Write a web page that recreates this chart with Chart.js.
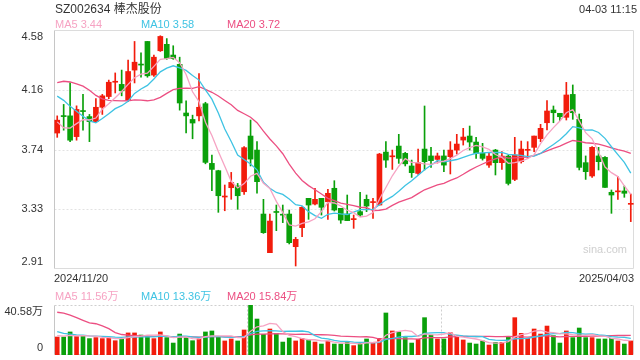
<!DOCTYPE html>
<html><head><meta charset="utf-8">
<script src="https://cdn.jsdelivr.net/npm/chart.js@4.4.1/dist/chart.umd.min.js"></script>
<style>
html,body{margin:0;padding:0;background:#fff;}
body{width:640px;height:360px;overflow:hidden;position:relative;font-family:"Liberation Sans",Arial,"Noto Sans CJK SC",sans-serif;}
.t{position:absolute;white-space:nowrap;line-height:1;}
.box{position:absolute;left:0;width:640px;}
</style></head><body>
<div class="box" style="top:285px;height:100px"><canvas id="c2"></canvas></div>
<div class="box" style="top:0;height:290px"><canvas id="c1"></canvas></div>
<div class="t" style="left:55px;top:3px;font-size:12px;color:#333">SZ002634 棒杰股份</div>
<div class="t" style="right:3px;top:4px;font-size:11px;color:#333">04-03 11:15</div>
<div class="t" id="l1" style="top:19px;font-size:11px"></div>
<div class="t" id="l2" style="top:291px;font-size:11px"></div>
<div class="t" style="left:583px;top:244px;font-size:11px;color:#cfcfcf">sina.com</div>
<script>
// ---- data ----
const dateLabels = ['2024/11/20', '2025/04/03'];
const opens  = [3.86,3.98,3.98,3.835,4.015,3.975,3.94,4.04,4.115,4.215,4.20,4.09,4.30,4.34,4.50,4.265,4.435,4.48,4.405,4.34,4.00,3.955,3.98,4.065,3.648,3.597,3.413,3.478,3.49,3.45,3.839,3.741,3.294,3.024,3.307,3.288,3.294,3.066,3.199,3.404,3.364,3.404,3.38,3.474,3.334,3.294,3.255,3.311,3.397,3.374,3.357,3.727,3.694,3.769,3.718,3.63,3.578,3.748,3.70,3.676,3.70,3.695,3.741,3.811,3.839,3.797,3.718,3.636,3.741,3.653,3.699,3.536,3.66,3.739,3.76,3.821,3.932,4.021,3.998,3.97,4.13,3.956,3.653,3.56,3.70,3.69,3.446,3.449,3.455,3.362];
const closes = [3.95,3.975,3.81,4.025,4.01,3.94,4.04,4.12,4.215,4.22,4.155,4.29,4.355,4.335,4.26,4.39,4.535,4.38,4.38,4.07,3.98,3.93,4.04,3.655,3.606,3.422,3.417,3.515,3.422,3.758,3.678,3.52,3.164,3.245,3.305,3.286,3.094,3.117,3.341,3.357,3.397,3.341,3.439,3.322,3.252,3.248,3.258,3.287,3.35,3.377,3.713,3.671,3.696,3.683,3.645,3.583,3.653,3.66,3.667,3.70,3.636,3.741,3.783,3.832,3.797,3.718,3.683,3.699,3.653,3.699,3.508,3.707,3.748,3.742,3.839,3.893,4.014,4.002,3.974,4.126,4.002,3.62,3.59,3.76,3.66,3.48,3.427,3.451,3.439,3.365];
const highs  = [3.98,4.06,4.21,4.05,4.13,3.99,4.10,4.13,4.23,4.28,4.30,4.37,4.50,4.42,4.50,4.405,4.54,4.52,4.47,4.39,4.085,3.985,4.275,4.075,3.706,3.60,3.497,3.585,3.508,3.765,3.951,3.80,3.397,3.294,3.357,3.357,3.322,3.131,3.346,3.404,3.474,3.404,3.467,3.527,3.334,3.427,3.287,3.446,3.427,3.404,3.718,3.80,3.741,3.851,3.725,3.671,3.748,4.049,3.76,3.72,3.741,3.80,3.851,3.893,3.909,3.83,3.788,3.718,3.746,3.73,3.707,3.83,3.804,3.80,3.839,3.921,4.086,4.049,3.998,4.214,4.196,3.993,3.70,3.765,3.76,3.695,3.462,3.555,3.49,3.434];
const lows   = [3.83,3.88,3.80,3.81,3.88,3.80,3.94,3.99,4.10,4.14,4.12,4.08,4.21,4.25,4.25,4.255,4.43,4.375,4.375,4.02,3.86,3.82,3.945,3.645,3.457,3.306,3.317,3.397,3.327,3.431,3.63,3.439,3.159,3.024,3.178,3.234,3.085,2.931,3.136,3.257,3.357,3.287,3.257,3.315,3.229,3.248,3.194,3.276,3.311,3.264,3.357,3.62,3.606,3.648,3.63,3.55,3.57,3.602,3.62,3.65,3.59,3.574,3.713,3.776,3.741,3.683,3.671,3.62,3.567,3.606,3.497,3.527,3.65,3.683,3.73,3.80,3.881,3.932,3.946,3.951,3.956,3.602,3.536,3.55,3.602,3.48,3.299,3.397,3.411,3.241];
// volumes in 万
const volumes = [14.6,14.6,18.7,15.0,15.7,13.3,14.1,13.3,14.1,11.6,13.3,17.9,17.9,16.2,15.0,13.3,18.7,14.1,9.7,17.0,14.1,11.6,13.3,18.7,19.5,14.9,11.4,13.0,11.4,20.3,40.58,29.2,16.8,21.1,17.6,10.5,13.8,11.4,13.5,12.7,10.5,8.9,11.4,8.9,8.9,10.3,7.6,9.5,13.0,10.3,13.5,34.1,19.5,18.7,14.1,9.7,12.7,30.3,16.2,13.0,13.0,18.1,16.0,12.2,9.7,8.9,11.4,8.1,10.3,10.3,14.6,30.3,17.6,13.5,21.1,17.0,23.5,15.7,9.7,19.5,14.1,21.9,14.1,14.1,13.0,13.0,13.5,11.4,8.9,11.4];
// 19 sessions before the window (estimated from the MA curves), used to warm up the averages
const priorCloses  = [3.80,3.91,4.30,4.32,4.52,4.75,4.60,4.44,4.24,4.20,4.27,4.23,4.37,4.35,4.27,4.18,3.82,3.87,3.87];
const priorVolumes = [30,51,56,59,54,28,47,60,75,45,28.6,23.7,21,17.7,19.3,16.5,15.9,17,14.6];
const yTicks = [2.91, 3.33, 3.74, 4.16, 4.58];
const volTicks = [0, 40.58];
const priceLegend = ['MA5 3.44', 'MA10 3.58', 'MA20 3.72'];
const volLegend = ['MA5 11.56万', 'MA10 13.36万', 'MA20 15.84万'];

// ---- styles ----
const RED = '#f21c0c', GREEN = '#0aa00a';
const MA_COLORS = ['#f6a3c3', '#3fc3e3', '#ec4f82'];
const FONT = '"Liberation Sans", Arial, "Noto Sans CJK SC", sans-serif';
Chart.defaults.font.family = FONT;
Chart.defaults.font.size = 11;
Chart.defaults.color = '#333';

const N = closes.length;
const idx = closes.map((_, i) => i);
function ma(series, prior, n) {
  const all = prior.concat(series), off = prior.length;
  return series.map((_, i) => { let s = 0; for (let k = 0; k < n; k++) s += all[off + i - k]; return s / n; });
}
const candleColors = idx.map(i => closes[i] >= opens[i] ? RED : GREEN);

function legend(el, texts) {
  const xs = [55, 141, 227];
  document.getElementById(el).outerHTML = texts.map((t, k) =>
    `<div class="t" style="left:${xs[k]}px;top:${el==='l1'?19:291}px;font-size:11px;color:${MA_COLORS[k]}">${t}</div>`).join('');
}
legend('l1', priceLegend);
legend('l2', volLegend);

function maSets(series, prior) {
  return [5, 10, 20].map((n, k) => ({
    type: 'line', data: ma(series, prior, n).map((v, i) => ({x: i, y: v})),
    borderColor: MA_COLORS[k], borderWidth: 1.3, pointRadius: 0, tension: 0, order: 0
  }));
}

function framePlugin(kind) {
  return {
    id: 'frame' + kind,
    beforeDatasetsDraw(chart) {
      const {ctx, chartArea: a} = chart;
      ctx.save();
      ctx.lineWidth = 1;
      const L = Math.round(a.left) + 0.5, R = Math.round(a.right) - 0.5;
      const T = Math.round(a.top) + 0.5, B = Math.round(a.bottom) - 0.5;
      if (kind === 'main') {
        const ys = chart.scales.y;
        ctx.strokeStyle = '#e2e2e2'; ctx.setLineDash([2, 2]);
        yTicks.slice(1, -1).forEach(v => {
          const y = Math.round(ys.getPixelForValue(v)) + 0.5;
          ctx.beginPath(); ctx.moveTo(L, y); ctx.lineTo(R, y); ctx.stroke();
        });
        ctx.setLineDash([]);
        ctx.strokeStyle = '#dcdcdc';
        ctx.beginPath(); ctx.moveTo(L, T); ctx.lineTo(R, T); ctx.lineTo(R, B); ctx.lineTo(L, B); ctx.stroke();
        ctx.strokeStyle = '#c6c6c6';
        ctx.beginPath(); ctx.moveTo(L, T); ctx.lineTo(L, B); ctx.stroke();
      } else {
        ctx.strokeStyle = '#cfcfcf'; ctx.setLineDash([2, 2]);
        ctx.beginPath(); ctx.moveTo(L, T); ctx.lineTo(R, T); ctx.moveTo(L, B); ctx.lineTo(R, B);
        const w = a.right - a.left;
        [1, 2].forEach(k => { const x = Math.round(a.left + w * k / 3) + 0.5; ctx.moveTo(x, T); ctx.lineTo(x, B); });
        ctx.stroke();
        ctx.setLineDash([]);
        ctx.strokeStyle = '#dcdcdc';
        ctx.beginPath(); ctx.moveTo(R, T); ctx.lineTo(R, B); ctx.stroke();
        ctx.strokeStyle = '#c6c6c6';
        ctx.beginPath(); ctx.moveTo(L, T); ctx.lineTo(L, B); ctx.stroke();
      }
      ctx.restore();
    }
  };
}

function edgeLabel(label, i, count) {
  if (i === 0) return [label, ''];
  if (i === count - 1) return ['', label];
  return label;
}

new Chart(document.getElementById('c1'), {
  type: 'bar',
  data: {
    datasets: [
      ...maSets(closes, priorCloses),
      { type: 'bar', data: idx.map(i => ({x: i, y: [opens[i], closes[i]]})), backgroundColor: candleColors,
        barThickness: 5, minBarLength: 1, grouped: false, order: 1 },
      { type: 'bar', data: idx.map(i => ({x: i, y: [lows[i], highs[i]]})), backgroundColor: candleColors,
        barThickness: 1, minBarLength: 1, grouped: false, order: 2 }
    ]
  },
  options: {
    responsive: true, maintainAspectRatio: false, animation: false, devicePixelRatio: 1,
    layout: { padding: { top: 30, right: 6, left: 0, bottom: 0 } },
    plugins: { legend: { display: false }, tooltip: { enabled: false } },
    scales: {
      x: { type: 'linear', min: -0.5, max: N - 0.5, offset: false,
        grid: { display: false, drawTicks: false }, border: { display: false },
        afterBuildTicks: s => { s.ticks = [{value: -0.5}, {value: N - 0.5}]; },
        afterFit: s => { s.height = 21; s.paddingLeft = 0; s.paddingRight = 0; },
        ticks: { autoSkip: false, maxRotation: 0, align: 'inner', padding: 3, color: '#333',
          callback: (v, i) => dateLabels[i] } },
      y: { min: yTicks[0], max: yTicks[yTicks.length - 1],
        grid: { display: false }, border: { display: false },
        afterBuildTicks: s => { s.ticks = yTicks.map(v => ({value: v})); },
        afterFit: s => { s.width = 54; s.paddingTop = 0; s.paddingBottom = 0; },
        ticks: { padding: 3, color: '#333',
          callback: (v, i) => edgeLabel(v.toFixed(2), i, yTicks.length) } }
    }
  },
  plugins: [framePlugin('main')]
});

new Chart(document.getElementById('c2'), {
  type: 'bar',
  data: {
    datasets: [
      ...maSets(volumes, priorVolumes),
      { type: 'bar', data: idx.map(i => ({x: i, y: volumes[i]})), backgroundColor: candleColors,
        barThickness: 4, grouped: false, order: 1 }
    ]
  },
  options: {
    responsive: true, maintainAspectRatio: false, animation: false, devicePixelRatio: 1,
    layout: { padding: { top: 20, right: 6, left: 0, bottom: 30 } },
    plugins: { legend: { display: false }, tooltip: { enabled: false } },
    scales: {
      x: { type: 'linear', min: -0.5, max: N - 0.5, offset: false, display: false },
      y: { min: volTicks[0], max: volTicks[1],
        grid: { display: false }, border: { display: false },
        afterBuildTicks: s => { s.ticks = volTicks.map(v => ({value: v})); },
        afterFit: s => { s.width = 54; s.paddingTop = 0; s.paddingBottom = 0; },
        ticks: { padding: 3, color: '#333',
          callback: (v, i) => edgeLabel(v === 0 ? '0' : v.toFixed(2) + '万', i, volTicks.length) } }
    }
  },
  plugins: [framePlugin('vol')]
});
</script>
</body></html>
